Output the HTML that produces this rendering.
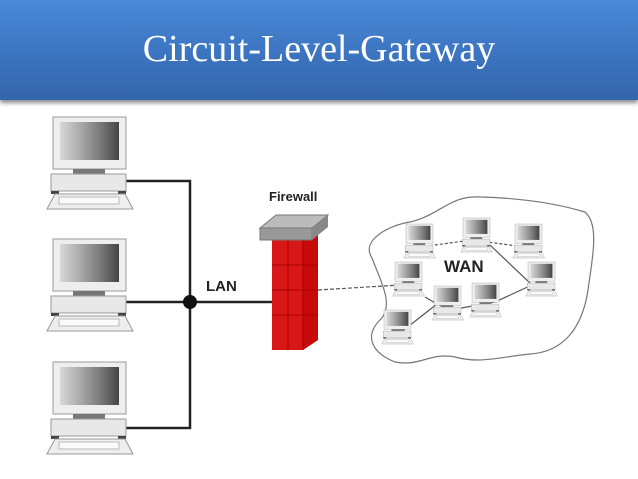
<!DOCTYPE html>
<html><head><style>
body{margin:0;width:638px;height:479px;background:#fff;overflow:hidden;position:relative;font-family:"Liberation Sans",sans-serif}
.hdr{position:absolute;left:0;top:0;width:638px;height:100px;background:linear-gradient(#4a8ad8,#3a72bd 60%,#3465aa);box-shadow:0 3px 4px rgba(0,0,0,.45)}
.hdr div{position:absolute;left:0;right:0;top:27px;text-align:center;color:#fff;font:38px "Liberation Serif",serif}
svg{position:absolute;left:0;top:0}
</style></head><body>
<div class="hdr"><div>Circuit-Level-Gateway</div></div>
<svg width="638" height="479">
<defs>
<linearGradient id="scr" x1="0" x2="1"><stop offset="0" stop-color="#d8d8d8"/><stop offset=".3" stop-color="#b0b0b0"/><stop offset=".7" stop-color="#777"/><stop offset="1" stop-color="#444"/></linearGradient>
<g id="pc">
<rect x="0" y="0" width="73" height="52" fill="#eee" stroke="#999"/>
<rect x="7" y="5" width="59" height="38" fill="url(#scr)"/>
<rect x="20" y="52" width="32" height="5" fill="#777"/>
<rect x="-2" y="57" width="75" height="17" fill="#e8e8e8" stroke="#999"/>
<rect x="-2" y="74" width="8" height="3" fill="#444"/><rect x="65" y="74" width="8" height="3" fill="#444"/>
<polygon points="2,77 72,77 80,92 -6,92" fill="#eee" stroke="#999"/>
<rect x="6" y="80" width="60" height="7" fill="#fafafa" stroke="#bbb"/>
</g>
</defs>
<g stroke="#222" stroke-width="2.5" fill="none">
<path d="M126 181 H190 V428 H126"/>
<path d="M126 302 H272"/>
</g>
<circle cx="190" cy="302" r="7" fill="#111"/>
<use href="#pc" x="53" y="117"/>
<use href="#pc" x="53" y="239"/>
<use href="#pc" x="53" y="362"/>
<text x="206" y="291" font-size="15" font-weight="bold" fill="#222">LAN</text>
<text x="269" y="201" font-size="13" font-weight="bold" fill="#222">Firewall</text>
<polygon points="272,240 303,240 318,232 318,340 303,350 272,350" fill="#d81818"/>
<g stroke="#a00" stroke-width="1"><path d="M272 265H318M272 290H318M272 315H318M288 240V350M303 240V350"/></g>
<polygon points="303,240 318,232 318,340 303,350" fill="#b00" opacity=".6"/>
<polygon points="260,228 276,215 328,215 312,228" fill="#bbb" stroke="#777"/>
<rect x="260" y="228" width="52" height="12" fill="#999" stroke="#777"/>
<polygon points="312,228 328,215 328,227 312,240" fill="#888"/>
<path d="M372 258 C360 240 390 225 410 222 C440 215 450 195 480 197 C520 198 555 203 585 212 C600 225 592 260 588 290 C582 330 562 352 530 354 C500 357 480 364 455 357 C430 352 420 367 395 362 C370 352 365 335 380 320 C395 305 380 280 372 258 Z" fill="none" stroke="#777" stroke-width="1.2"/>
<g stroke="#555" stroke-width="1.2" fill="none">
<path d="M318 290 L400 285" stroke-dasharray="4 2"/>
<path d="M420 247 L472 240 L525 247" stroke-dasharray="3 2"/>
<path d="M490 245 L532 285 L495 302 L450 310 L437 304 L400 333 M425 297 L437 304"/>
</g>
<use href="#pc" transform="translate(406,224) scale(.37)"/>
<use href="#pc" transform="translate(463,218) scale(.37)"/>
<use href="#pc" transform="translate(515,224) scale(.37)"/>
<use href="#pc" transform="translate(395,262) scale(.37)"/>
<use href="#pc" transform="translate(528,262) scale(.37)"/>
<use href="#pc" transform="translate(434,286) scale(.37)"/>
<use href="#pc" transform="translate(472,283) scale(.37)"/>
<use href="#pc" transform="translate(384,310) scale(.37)"/>
<text x="444" y="272" font-size="17" font-weight="bold" fill="#222">WAN</text>
</svg>
</body></html>
